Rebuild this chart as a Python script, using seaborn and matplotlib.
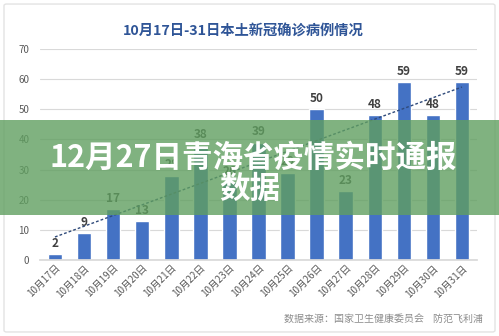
import matplotlib
matplotlib.use("Agg")
import matplotlib.pyplot as plt
from matplotlib.patches import Rectangle, FancyBboxPatch
import seaborn as sns
import numpy as np
import pandas as pd

dates = ["10月17日", "10月18日", "10月19日", "10月20日", "10月21日", "10月22日", "10月23日",
         "10月24日", "10月25日", "10月26日", "10月27日", "10月28日", "10月29日", "10月30日", "10月31日"]
cases = [2, 9, 17, 13, 28, 38, 26, 39, 29, 50, 23, 48, 59, 48, 59]
yticks = [0, 10, 20, 30, 40, 50, 60, 70]

title = "10月17日-31日本土新冠确诊病例情况"
banner_line1 = "12月27日青海省疫情实时通报"
banner_line2 = "数据"
source = "数据来源：国家卫生健康委员会    防范飞利浦"

sns.set_theme(style="white")
plt.rcParams['font.family'] = ['Noto Sans CJK SC', 'DejaVu Sans']

df = pd.DataFrame({"date": dates, "cases": cases})

fig = plt.figure(figsize=(4.99, 3.36), dpi=100)
fig.patch.set_facecolor("white")
ax = fig.add_axes([0.081, 0.226, 0.874, 0.628])

sns.barplot(data=df, x="date", y="cases", color="#4472C4", saturation=1, width=0.5, ax=ax, zorder=2)
ax.bar_label(ax.containers[0], padding=3, fontsize=8.5, fontweight="bold", color="#404040")

# linear trend line
xs = np.arange(len(cases))
k, b = np.polyfit(xs, cases, 1)
ax.plot([xs[0], xs[-1]], [k * xs[0] + b, k * xs[-1] + b], ls=(0, (2, 1.5)), lw=1.0,
        color="#2F4A7A", zorder=3)

ax.set_ylim(0, 70)
ax.set_xlim(-0.5, len(cases) - 0.5)
ax.set_yticks(yticks)
ax.yaxis.grid(True, color="#D9D9D9", lw=0.8, zorder=0)
ax.set_axisbelow(True)
for s in ["top", "right", "left"]:
    ax.spines[s].set_visible(False)
ax.spines["bottom"].set_color("#D9D9D9")
ax.set_xlabel("")
ax.set_ylabel("")
ax.tick_params(axis="y", labelsize=7, labelcolor="#595959", length=0, pad=8)
ax.tick_params(axis="x", labelsize=7, labelcolor="#595959", length=0, pad=2)
plt.setp(ax.get_xticklabels(), rotation=45, ha="right", rotation_mode="anchor")

# card border
fig.add_artist(FancyBboxPatch((0.008, 0.012), 0.984, 0.976, boxstyle="round,pad=0,rounding_size=0.005",
                              transform=fig.transFigure, fill=False, edgecolor="#E3E3E3", lw=1.0, zorder=1))

fig.text(0.487, 0.905, title, ha="center", va="center", fontsize=10.3, fontweight="bold", color="#2F5597")
fig.text(0.968, 0.051, source, ha="right", va="center", fontsize=7.2, color="#8C8C8C")

# overlay banner
fig.add_artist(Rectangle((0, 0.360), 1, 0.283, transform=fig.transFigure,
                         facecolor="#609F60", alpha=0.8, edgecolor="none", zorder=5))
fig.text(0.507, 0.530, banner_line1, ha="center", va="center", fontsize=22, fontweight="bold",
         color="white", zorder=6)
fig.text(0.501, 0.437, banner_line2, ha="center", va="center", fontsize=22, fontweight="bold",
         color="white", zorder=6)

fig.savefig("out.png", dpi=100)
